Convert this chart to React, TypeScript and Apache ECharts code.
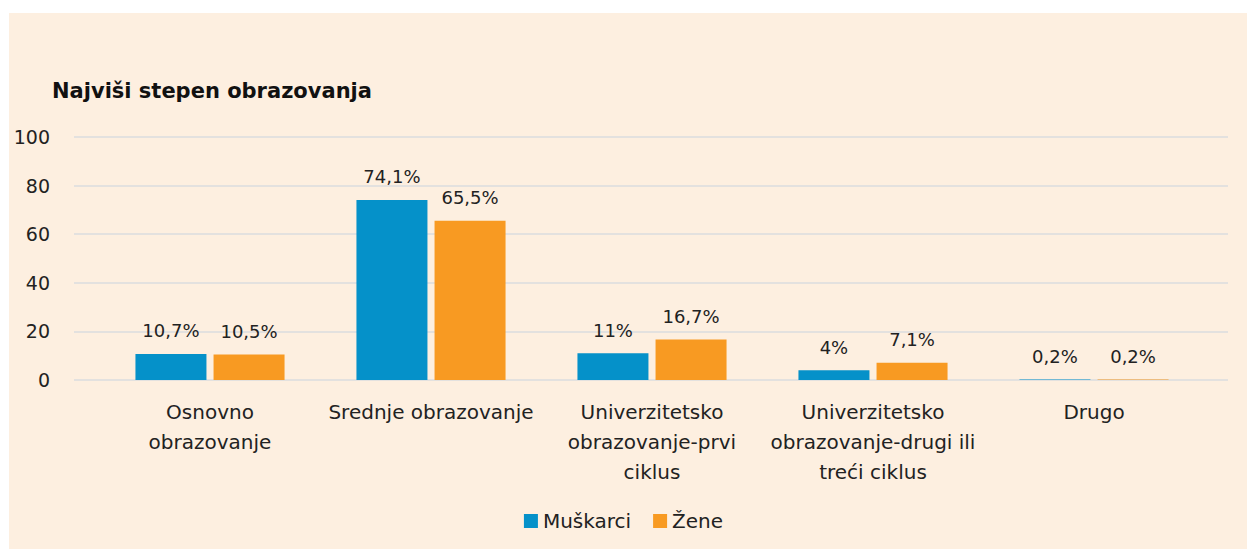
import React, { useEffect, useRef } from "react";
import * as echarts from "echarts";

const categories = [
  "Osnovno\nobrazovanje",
  "Srednje obrazovanje",
  "Univerzitetsko\nobrazovanje-prvi\nciklus",
  "Univerzitetsko\nobrazovanje-drugi ili\ntreći ciklus",
  "Drugo",
];
const muskarci = [10.7, 74.1, 11, 4, 0.2];
const zene = [10.5, 65.5, 16.7, 7.1, 0.2];
const seriesNames = ["Muškarci", "Žene"];
const title = "Najviši stepen obrazovanja";

const FONT = "'DejaVu Sans', sans-serif";
const fmt = (v: number) => String(v).replace(".", ",") + "%";

export default function App() {
  const ref = useRef<HTMLDivElement>(null);
  useEffect(() => {
    if (!ref.current) return;
    const chart = echarts.init(ref.current, null, { renderer: "svg" });
    const labelStyle = {
      show: true,
      position: "top" as const,
      distance: 14,
      fontSize: 18,
      color: "#222",
      fontFamily: FONT,
      formatter: (p: any) => fmt(p.value),
    };
    chart.setOption({
      animation: false,
      backgroundColor: "#ffffff",
      textStyle: { fontFamily: FONT },
      graphic: [
        {
          type: "rect",
          z: -10,
          silent: true,
          shape: { x: 9, y: 13, width: 1247 - 9, height: 549 - 13 },
          style: { fill: "#FDEFE0" },
        },
      ],
      title: {
        text: title,
        left: 47,
        top: 75,
        textStyle: { fontSize: 21, fontWeight: "bold", color: "#111", fontFamily: FONT },
      },
      legend: {
        bottom: 13,
        left: "center",
        icon: "rect",
        itemWidth: 14,
        itemHeight: 14,
        itemGap: 22,
        itemStyle: { borderWidth: 0 },
        textStyle: { fontSize: 20, color: "#222", fontFamily: FONT },
        data: seriesNames,
      },
      grid: [
        { left: 74, right: 19, top: 137, bottom: 169 },
        { left: 99.5, right: 42.5, top: 137, bottom: 169 },
      ],
      xAxis: [
        {
          gridIndex: 0,
          type: "category",
          data: categories,
          show: false,
        },
        {
          gridIndex: 1,
          type: "category",
          data: categories,
          axisLine: { show: false },
          axisTick: { show: false },
          axisLabel: {
            interval: 0,
            fontSize: 20,
            lineHeight: 30,
            margin: 17,
            color: "#222",
            fontFamily: FONT,
          },
        },
      ],
      yAxis: [
        {
          gridIndex: 0,
          type: "value",
          min: 0,
          max: 100,
          interval: 20,
          axisLine: { show: false },
          axisTick: { show: false },
          axisLabel: { fontSize: 19, margin: 24, color: "#222", fontFamily: FONT },
          splitLine: { lineStyle: { color: "#DADCDF", width: 1.5 } },
        },
        {
          gridIndex: 1,
          type: "value",
          min: 0,
          max: 100,
          interval: 20,
          show: false,
          splitLine: { show: false },
        },
      ],
      series: [
        {
          name: seriesNames[0],
          type: "bar",
          xAxisIndex: 1,
          yAxisIndex: 1,
          data: muskarci,
          barWidth: 71,
          barGap: "10%",
          itemStyle: { color: "#0591C9" },
          label: labelStyle,
        },
        {
          name: seriesNames[1],
          type: "bar",
          xAxisIndex: 1,
          yAxisIndex: 1,
          data: zene,
          barWidth: 71,
          barGap: "10%",
          itemStyle: { color: "#F89A22" },
          label: labelStyle,
        },
      ],
    });
    return () => chart.dispose();
  }, []);
  return (
    <div
      ref={ref}
      style={{ position: "absolute", left: 0, top: 0, width: 1247, height: 549 }}
    />
  );
}
